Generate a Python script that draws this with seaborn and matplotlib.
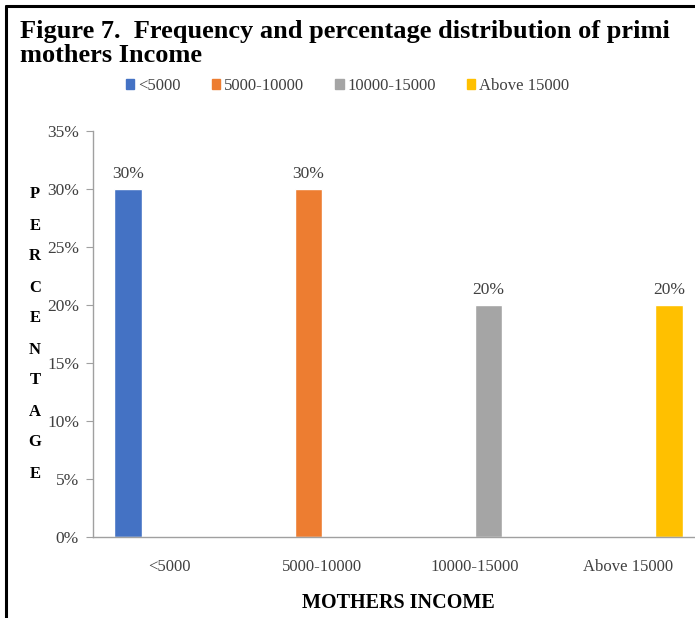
import matplotlib
matplotlib.use("Agg")
import matplotlib.pyplot as plt
import seaborn as sns
import pandas as pd
from matplotlib.lines import Line2D

# data
income_groups = ["<5000", "5000-10000", "10000-15000", "Above 15000"]
percentages = [30, 30, 20, 20]
bar_colors = ["#4472C4", "#ED7D31", "#A5A5A5", "#FFC000"]
y_ticks = [0, 5, 10, 15, 20, 25, 30, 35]

df = pd.DataFrame({"income": income_groups, "pct": percentages})

sns.set_style("white")
plt.rcParams["font.family"] = ["Liberation Serif", "DejaVu Serif"]

fig = plt.figure(figsize=(6.95, 6.18), dpi=100)
ax = fig.add_axes([93 / 695, 81 / 618, 611 / 695, 406 / 618])

sns.barplot(data=df, x="income", y="pct", hue="income", order=income_groups,
            hue_order=income_groups, palette=bar_colors, dodge=True,
            width=0.72, gap=0, saturation=1, legend=False, ax=ax)

for cont in ax.containers:
    ax.bar_label(cont, fmt="%g%%", padding=5, fontsize=12.5, color="#404040")

ax.set_ylim(0, 35)
ax.set_xlim(-0.5, 3.5)
ax.set_yticks(y_ticks)
ax.set_yticklabels([f"{t}%" for t in y_ticks])
ax.set_xticks(range(len(income_groups)))
ax.set_xticklabels(income_groups)
ax.set_xticks([-0.5, 0.5, 1.5, 2.5, 3.5], minor=True)
ax.tick_params(axis="x", which="major", length=0, pad=16, labelsize=12, labelcolor="#404040")
ax.tick_params(axis="x", which="minor", length=5, width=0.8, color="#a0a0a0", direction="out")
ax.tick_params(axis="y", length=5, width=0.8, color="#a0a0a0", pad=5, labelsize=12.5,
               labelcolor="#404040", left=True)

for side in ["top", "right"]:
    ax.spines[side].set_visible(False)
for side in ["left", "bottom"]:
    ax.spines[side].set_color("#a0a0a0")
    ax.spines[side].set_linewidth(1.0)

ax.set_ylabel("")
ax.set_xlabel("MOTHERS INCOME", fontsize=14.5, fontweight="bold", labelpad=13, color="black")

fig.text(35 / 695, 1 - 334 / 618, "\n".join("PERCENTAGE"), ha="center", va="center",
         fontsize=12, fontweight="bold", linespacing=2.25, color="black")

# legend
handles = [plt.Rectangle((0, 0), 1, 1, color=c) for c in bar_colors]
fig.legend(handles, income_groups, loc="center", bbox_to_anchor=(0.5, 1 - 86 / 618),
           ncol=4, frameon=False, fontsize=12, handlelength=0.5, handleheight=0.5,
           handletextpad=0.2, columnspacing=1.9, labelcolor="#404040")

fig.text(20 / 695, 1 - 20 / 618,
         "Figure 7.  Frequency and percentage distribution of primi\nmothers Income",
         ha="left", va="top", fontsize=19, fontweight="bold", linespacing=1.05,
         color="black")

# page frame
fig.add_artist(Line2D([6 / 695, 6 / 695], [0, 1 - 6 / 618], color="black", lw=2.2))
fig.add_artist(Line2D([6 / 695, 1], [1 - 6 / 618, 1 - 6 / 618], color="black", lw=2.2))

fig.savefig("out.png", dpi=100)
